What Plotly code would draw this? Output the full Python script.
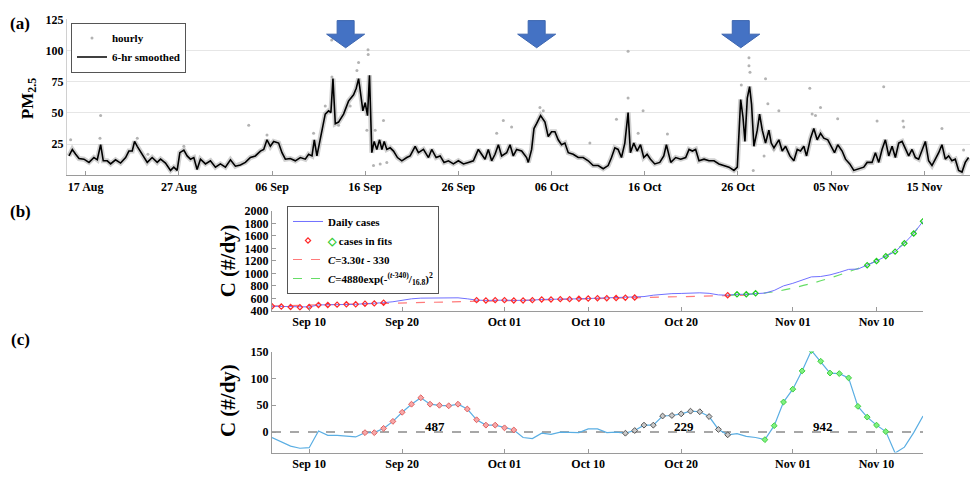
"""PM2.5 at the site with daily case counts and fitted humps."""

import pandas as pd
import plotly.graph_objects as go


W, H = 974, 477
SERIF = "Liberation Serif"
T0 = pd.Timestamp("2020-08-15")
A_SPAN = 96.9  # days shown on panel (a)

# (a) 6-hr smoothed PM2.5, days after 15 Aug
pm_days = [
    0.21, 0.57, 0.93, 1.29, 1.82, 2.36, 2.89, 3.25, 3.61, 3.89,
    4.32, 4.68, 5.21, 5.75, 6.29, 6.64, 7.0, 7.25, 7.54, 8.07,
    8.61, 9.14, 9.68, 10.04, 10.57, 11.11, 11.46, 11.82, 12.11, 12.54,
    12.89, 13.25, 13.61, 13.96, 14.32, 14.86, 15.39, 15.93, 16.46, 17.0,
    17.54, 18.07, 18.61, 19.14, 19.68, 20.21, 20.75, 21.11, 21.46, 21.82,
    22.18, 22.71, 23.07, 23.43, 23.96, 24.5, 25.04, 25.57, 25.93, 26.29,
    26.54, 26.82, 27.11, 27.36, 27.71, 28.07, 28.32, 28.54, 28.79, 29.14,
    29.68, 30.21, 30.75, 31.04, 31.29, 31.57, 31.75, 32.0, 32.25, 32.46,
    32.71,
    32.96, 33.25, 33.54, 33.79, 34.04, 34.32, 34.68, 35.04, 35.46, 35.93,
    36.46, 36.82, 37.36, 37.71, 38.25, 38.79, 39.14, 39.61, 40.04, 40.46,
    40.93, 41.46, 42.0, 42.54, 43.07, 43.61, 44.14, 44.5, 44.86, 45.21,
    45.57, 45.93, 46.29, 46.64, 47.18, 47.54, 47.89, 48.25, 48.79, 49.32,
    49.5, 49.86, 50.11, 50.39, 50.82, 51.29, 51.64, 52.0, 52.36, 52.71,
    53.07, 53.43, 53.79, 54.32, 54.86, 55.39, 55.93, 56.46, 57.0, 57.54,
    58.07, 58.43, 58.79, 59.14, 59.5, 59.86, 60.21, 60.46, 60.82, 61.18,
    61.54, 61.89, 62.25, 62.61, 63.07, 63.61, 64.04, 64.32,
    64.79, 65.32, 65.86, 66.39, 66.75, 67.11, 67.46, 67.82, 68.36, 68.89,
    69.43, 69.96, 70.5, 71.04, 71.57, 71.93, 72.29, 72.54, 72.75, 73.0,
    73.25, 73.46, 73.71, 74.07, 74.32, 74.61, 74.96, 75.32, 75.57, 75.86,
    76.39, 76.75, 77.11, 77.57, 78.0, 78.36, 78.71, 79.07, 79.36, 79.79,
    80.14, 80.5, 80.86, 81.21, 81.64, 82.0, 82.36, 82.71, 83.18, 83.54,
    84.0, 84.43, 84.96, 85.5, 85.86, 86.39, 86.75, 87.11, 87.46, 87.82,
    88.18, 88.54, 88.89, 89.25, 89.61, 89.96, 90.32, 90.68, 91.04, 91.39,
    91.75, 92.11, 92.46, 92.82, 93.18, 93.54, 93.89, 94.25, 94.61, 94.96,
    95.32, 95.68, 96.04, 96.39, 96.75,
]
pm_vals = [
    15.6, 20.8, 16.9, 13.5, 13.0, 10.4, 14.3, 12.5, 24.6, 11.7,
    11.7, 9.2, 12.5, 9.9, 14.3, 19.5, 19.5, 27.2, 23.3, 16.9,
    10.4, 14.3, 10.4, 13.0, 9.9, 4.0, 6.6, 4.0, 18.2, 20.3,
    15.6, 13.0, 14.3, 4.8, 13.0, 9.2, 11.7, 6.6, 9.2, 6.6,
    12.5, 7.4, 8.4, 10.4, 14.3, 15.6, 19.5, 20.8, 28.5, 23.3,
    27.2, 25.9, 18.2, 13.0, 13.5, 11.7, 14.3, 13.0, 16.9, 15.6,
    28.5, 15.6, 27.2, 36.2, 49.1, 51.7, 50.4, 77.5, 41.4, 42.7,
    49.1, 59.5, 64.6, 69.8, 77.5, 62.0, 51.7, 58.2, 47.9, 80.1,
    18.2,
    27.2, 20.8, 28.5, 20.8, 27.2, 20.8, 22.1, 19.5, 14.3, 11.7,
    14.3, 15.6, 23.3, 18.2, 20.8, 14.3, 20.8, 14.3, 15.6, 10.4,
    11.7, 9.2, 11.7, 9.2, 10.4, 11.7, 20.8, 16.9, 13.0, 20.8,
    11.7, 16.9, 24.6, 15.6, 18.2, 24.6, 15.6, 20.8, 19.5, 14.3,
    10.4, 20.8, 37.5, 41.4, 47.9, 42.7, 31.1, 35.0, 35.0, 28.5,
    24.6, 25.9, 18.2, 16.9, 14.3, 14.3, 11.7, 7.9, 7.9, 5.3,
    7.9, 14.3, 22.1, 20.8, 14.3, 25.9, 50.4, 18.2, 25.9, 19.5,
    24.6, 14.3, 16.9, 13.0, 9.2, 10.4, 15.6, 24.6,
    10.4, 14.3, 13.0, 14.3, 20.8, 19.5, 20.8, 11.7, 13.0, 11.7,
    11.7, 9.2, 7.9, 6.6, 4.0, 6.6, 60.8, 46.6, 27.2, 62.0,
    71.1, 56.9, 23.3, 36.2, 49.1, 36.2, 25.9, 36.2, 25.9, 22.1,
    28.5, 19.5, 23.3, 15.6, 11.7, 20.8, 19.5, 23.3, 15.6, 29.8,
    37.5, 28.5, 33.7, 29.8, 28.5, 23.3, 18.2, 24.6, 19.5, 13.0,
    9.2, 4.0, 5.3, 6.6, 10.4, 10.4, 18.2, 10.4, 20.8, 28.5,
    15.6, 23.3, 14.3, 25.9, 27.2, 22.1, 15.6, 20.8, 14.3, 13.0,
    20.8, 27.2, 11.7, 7.9, 13.0, 18.2, 24.6, 13.0, 15.6, 11.7,
    13.0, 4.0, 2.7, 10.4, 14.3,
]

# (a) hourly readings that stand apart from the smoothed line
hourly_days = [
    0.39, 3.61, 3.54, 7.54, 8.68, 12.54, 19.5, 21.46, 26.46, 27.71,
    28.43, 28.4, 29.14, 30.39, 31.11, 31.29, 32.18, 32.3, 32.32, 33.96,
    33.07, 32.89, 33.61, 34.32, 46.11, 46.82, 47.71, 50.75, 51.11, 56.11,
    58.96, 60.21, 60.21, 61.29, 61.82, 64.43, 73.18, 73.18, 73.29, 72.36,
    74.96, 75.21, 76.39, 73.64, 79.71, 79.96, 80.32, 80.86, 87.64, 86.93,
    89.71, 89.79, 93.89, 96.21, 74.8, 75.86, 82.7,
]
hourly_vals = [
    28.5, 47.9, 29.8, 29.8, 16.9, 23.3, 40.1, 32.4, 33.7, 55.6,
    78.8, 108.5, 40.1, 55.6, 84.0, 90.4, 36.2, 100.7, 96.9, 44.0,
    36.2, 7.9, 9.2, 10.4, 33.7, 43.9, 38.8, 54.3, 51.7, 25.9,
    45.0, 99.5, 62.0, 33.7, 51.7, 33.2, 94.3, 87.8, 82.7, 72.4,
    77.5, 57.4, 51.7, 4.0, 69.8, 49.1, 47.9, 54.3, 71.1, 43.5,
    43.5, 38.8, 37.5, 20.3, 15.6, 20.8, 45.3,
]

arrow_days = [29.9, 50.4, 72.3]
a_ticks = pd.date_range("2020-08-17", periods=10, freq="10D")

# (b) daily cases
case_dates = pd.date_range("2020-09-06", "2020-11-15")
cases = [
    473, 468, 462, 457, 462, 494, 494, 499, 504, 504,
    514, 519, 530, 545, 571, 592, 603, 603, 603, 603,
    608, 592, 571, 566, 571,
    571, 566, 566, 571, 582, 582, 587, 587, 592, 597,
    602, 602, 605, 610, 613, 628, 650, 668, 675, 678,
    684, 688, 680, 655, 650, 664, 664, 680, 684, 726, 799,
    840, 886, 943, 949, 975, 1016, 1063, 1068, 1130, 1197,
    1274, 1347, 1482, 1638, 1833,
]
lin_spans = [("2020-09-06", "2020-09-18"), ("2020-09-28", "2020-10-15"),
             ("2020-10-25", "2020-10-25")]
gauss_spans = [("2020-10-26", "2020-10-28"), ("2020-11-09", "2020-11-15")]

lin_dates = ["2020-09-06", "2020-09-20", "2020-10-01", "2020-10-10",
             "2020-10-20", "2020-10-27"]
lin_vals = [478, 525, 565, 597, 627, 650]
gauss_dates = ["2020-10-25", "2020-10-28", "2020-10-30", "2020-11-01",
               "2020-11-03", "2020-11-05", "2020-11-07", "2020-11-09",
               "2020-11-11", "2020-11-13", "2020-11-15"]
gauss_vals = [648, 672, 705, 765, 838, 925, 1025, 1135, 1275, 1485, 1833]

b_ticks = ["2020-09-10", "2020-09-20", "2020-10-01", "2020-10-10",
           "2020-10-20", "2020-11-01", "2020-11-10"]

# (c) cases above the fitted baseline
excess = [
    -10, -18, -26, -30, -29, 2, -6, -6, -7, -9,
    -1, -1, 7, 20, 37, 52, 64, 52, 50, 49,
    52, 43, 23, 13, 13,
    8, 4, -10, -12, -2, -4, 0, -1, -1, 6,
    6, -1, 0, -2, 3, 13, 13, 30, 31, 34,
    39, 38, 29, 5, -5, -3, -8, -10, -14, 12, 56,
    80, 114, 152, 132, 110, 109, 101, 48, 28, 13,
    1, -39, -28, -1, 30,
]
hump_spans = [("2020-09-16", "2020-10-02"), ("2020-10-14", "2020-10-25"),
              ("2020-10-29", "2020-11-11")]
hump_labels = ["487", "229", "942"]
hump_label_dates = ["2020-09-23 12:00", "2020-10-20 08:00", "2020-11-04 05:00"]
hump_label_y = [11, 11, 11]


def px(x):
    return x / W


def py(y):
    return 1 - y / H


def pick(dates, values, spans):
    s = pd.Series(values, index=dates)
    return pd.concat([s[a:b] for a, b in spans])


def bold(size):
    return dict(family=SERIF, size=size, color="black", weight="bold")


fig = go.Figure()

# ---- panel (a)
pm_t = T0 + pd.to_timedelta(pm_days, unit="D")
hourly_t = T0 + pd.to_timedelta(hourly_days, unit="D")
fig.add_trace(go.Scatter(x=pm_t, y=pm_vals, mode="lines", showlegend=False,
                         line=dict(color="rgba(170,170,170,0.55)", width=5),
                         hoverinfo="skip", xaxis="x", yaxis="y"))
fig.add_trace(go.Scatter(x=hourly_t, y=hourly_vals, mode="markers", name="hourly",
                         marker=dict(size=3, color="#b3b3b3"),
                         xaxis="x", yaxis="y", legend="legend"))
fig.add_trace(go.Scatter(x=pm_t, y=pm_vals, mode="lines", name="6-hr smoothed",
                         line=dict(color="black", width=1.6),
                         xaxis="x", yaxis="y", legend="legend"))

# ---- panel (b)
lin_pts = pick(case_dates, cases, lin_spans)
gauss_pts = pick(case_dates, cases, gauss_spans)
fig.add_trace(go.Scatter(x=lin_dates, y=lin_vals, mode="lines",
                         name="<i>C</i>=3.30<i>t</i> - 330", legendrank=3,
                         line=dict(color="#ff7a7a", width=1.2, dash="dash"),
                         xaxis="x2", yaxis="y2", legend="legend2"))
fig.add_trace(go.Scatter(x=gauss_dates, y=gauss_vals, mode="lines", line_shape="spline",
                         name="<i>C</i>=4880exp(-<sup>(<i>t</i>-340)</sup>/<sub>16.8</sub>)<sup>2</sup>",
                         legendrank=4,
                         line=dict(color="#66dd66", width=1.2, dash="dash"),
                         xaxis="x2", yaxis="y2", legend="legend2"))
fig.add_trace(go.Scatter(x=case_dates, y=cases, mode="lines", name="Daily cases",
                         legendrank=1, line=dict(color="#7070ff", width=1),
                         xaxis="x2", yaxis="y2", legend="legend2"))
fig.add_trace(go.Scatter(x=lin_pts.index, y=lin_pts.values, mode="markers",
                         name='<span style="color:#33cc33">\u25c7</span> cases in fits',
                         legendrank=2,
                         marker=dict(symbol="diamond-open", size=4, color="#ff2a2a",
                                     line=dict(width=1.2)),
                         xaxis="x2", yaxis="y2", legend="legend2"))
fig.add_trace(go.Scatter(x=gauss_pts.index, y=gauss_pts.values, mode="markers",
                         showlegend=False,
                         marker=dict(symbol="diamond-open", size=4, color="#22cc22",
                                     line=dict(width=1.2)),
                         xaxis="x2", yaxis="y2"))

# ---- panel (c)
fig.add_trace(go.Scatter(x=case_dates, y=excess, mode="lines", showlegend=False,
                         line=dict(color="#5aaee3", width=1.2), xaxis="x3", yaxis="y3"))
hump_styles = [("#f7a8a8", "#e06060"), ("#c9c9c9", "#555555"), ("#80f080", "#3fcf3f")]
for span, (fill, edge) in zip(hump_spans, hump_styles):
    pts = pick(case_dates, excess, [span])
    fig.add_trace(go.Scatter(x=pts.index, y=pts.values, mode="markers", showlegend=False,
                             marker=dict(symbol="diamond", size=4.5, color=fill,
                                         line=dict(color=edge, width=1)),
                             xaxis="x3", yaxis="y3"))
fig.add_shape(type="line", xref="x3 domain", x0=0, x1=1, yref="y3", y0=0, y1=0,
              line=dict(color="#8a8a8a", width=1.5, dash="dash"), layer="below")
for label, d, yv in zip(hump_labels, hump_label_dates, hump_label_y):
    fig.add_annotation(x=d, y=yv, xref="x3", yref="y3", text=label, showarrow=False,
                       xanchor="center", yanchor="middle", font=bold(13))

# ---- arrows over panel (a)
for d in arrow_days:
    cx = 67 + d / A_SPAN * 903
    pts = [(cx - 8.5, 14), (cx + 8.5, 14), (cx + 8.5, 28), (cx + 19, 28),
           (cx, 42), (cx - 19, 28), (cx - 8.5, 28)]
    path = "M " + " L ".join(f"{px(x):.5f},{py(y):.5f}" for x, y in pts) + " Z"
    fig.add_shape(type="path", xref="paper", yref="paper", path=path,
                  fillcolor="#4472c4", line=dict(color="#3d66b0", width=1))

# ---- panel letters and axis titles
for text, x, y in [("(a)", 20, 17), ("(b)", 20, 211), ("(c)", 20, 343)]:
    fig.add_annotation(x=px(x), y=py(y), xref="paper", yref="paper", text=text,
                       xanchor="center", yanchor="middle", showarrow=False, font=bold(17))
fig.add_annotation(x=px(29), y=py(95), xref="paper", yref="paper", textangle=-90,
                   xanchor="center", yanchor="middle",
                   text="PM<sub>2.5</sub>", showarrow=False, font=bold(17))
for yc in [262, 406]:
    fig.add_annotation(x=px(228), y=py(yc), xref="paper", yref="paper", textangle=-90,
                       xanchor="center", yanchor="middle",
                       text="C (#/dy)", showarrow=False, font=bold(21))

axis_common = dict(showgrid=False, zeroline=False, showline=True, linecolor="#9a9a9a",
                   ticks="inside", ticklen=4, tickcolor="#9a9a9a", tickfont=bold(12))

fig.update_layout(
    width=W, height=H, margin=dict(l=0, r=0, t=0, b=0),
    plot_bgcolor="white", paper_bgcolor="white",
    font=dict(family=SERIF, size=12, color="black"),
    xaxis=dict(axis_common, domain=[px(67), px(970)], anchor="y", type="date",
               range=[T0, T0 + pd.Timedelta(days=A_SPAN)],
               tickvals=a_ticks, tickformat="%d %b"),
    yaxis=dict(axis_common, domain=[py(173.5), py(12.7)], anchor="x", range=[0, 125],
               tickvals=[25, 50, 75, 100, 125], showgrid=True, gridcolor="#e6e6e6",
               linecolor="#d0d0d0", ticks=""),
    xaxis2=dict(axis_common, domain=[px(272), px(923)], anchor="y2", type="date",
                range=["2020-09-06", "2020-11-15"], tickvals=b_ticks, tickformat="%b %d"),
    yaxis2=dict(axis_common, domain=[py(313), py(210)], anchor="x2", range=[400, 2000],
                dtick=200, tickfont=bold(12)),
    xaxis3=dict(axis_common, domain=[px(272), px(923)], anchor="y3", type="date",
                range=["2020-09-06", "2020-11-15"], tickvals=b_ticks, tickformat="%b %d"),
    yaxis3=dict(axis_common, domain=[py(459), py(355)], anchor="x3", range=[-38, 150],
                tickvals=[0, 50, 100, 150]),
    legend=dict(x=px(71), y=py(16), xanchor="left", yanchor="top", bgcolor="white",
                bordercolor="#555", borderwidth=1, font=bold(11), tracegroupgap=0,
                itemwidth=30),
    legend2=dict(x=px(287), y=py(205), xanchor="left", yanchor="top", bgcolor="white",
                 bordercolor="#555", borderwidth=1, font=bold(11), tracegroupgap=0,
                 itemwidth=30),
)

# the page body has a default margin; drop it so the figure sits at the corner
fig.write_html("out.html", config={"displayModeBar": False},
               post_script="document.body.style.margin = '0px';")
